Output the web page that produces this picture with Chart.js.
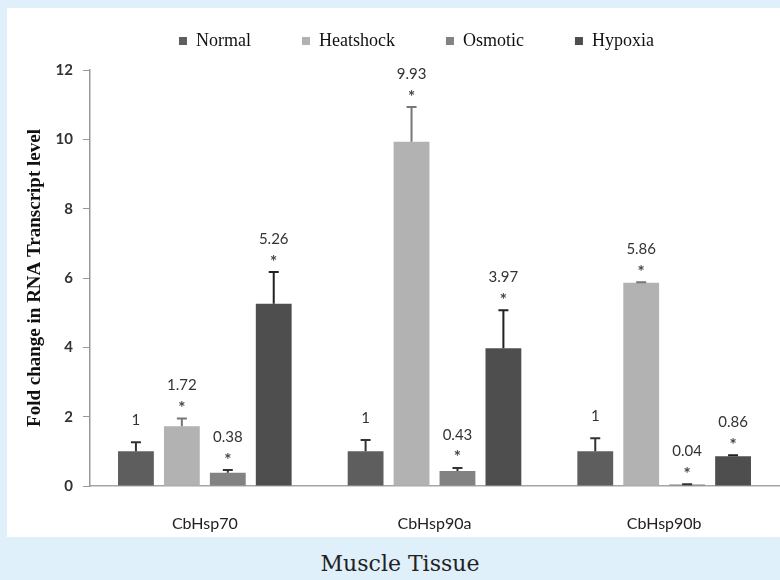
<!DOCTYPE html>
<html>
<head>
<meta charset="utf-8">
<title>Muscle Tissue</title>
<script src="https://cdn.jsdelivr.net/npm/chart.js@4.4.1/dist/chart.umd.min.js"></script>
<style>
  html, body { margin: 0; padding: 0; }
  body { width: 780px; height: 580px; background: #dff0fb; position: relative; overflow: hidden; }
  #panel { position: absolute; left: 7px; top: 8px; width: 773px; height: 529px; background: #fff; }
  #caption { position: absolute; left: 0; width: 800px; top: 551px; text-align: center; font: 22px 'DejaVu Serif', serif; color: #222; }
</style>
</head>
<body>
<div id="panel"><canvas id="chart"></canvas></div>
<div id="caption">Muscle Tissue</div>
<script>
const genes = ['CbHsp70', 'CbHsp90a', 'CbHsp90b'];
const normal = [1, 1, 1];
const heatshock = [1.72, 9.93, 5.86];
const osmotic = [0.38, 0.43, 0.04];
const hypoxia = [5.26, 3.97, 0.86];
const normalErr = [0.26, 0.33, 0.38];
const heatshockErr = [0.23, 1.0, 0.02];
const osmoticErr = [0.08, 0.09, 0.01];
const hypoxiaErr = [0.91, 1.1, 0.03];
const yTicks = [0, 2, 4, 6, 8, 10, 12];

function series(label, data, errors, color, errorColor, starred) {
  return {
    label,
    data,
    errors,
    errorColor,
    starred,
    backgroundColor: color,
    borderWidth: 0,
    categoryPercentage: 0.8,
    barPercentage: 0.78,
  };
}

// error bars (upper half only) plus value and "*" labels
const errorBars = {
  id: 'errorBars',
  afterDatasetsDraw(chart) {
    const { ctx } = chart;
    const y = chart.scales.y;
    chart.data.datasets.forEach((ds, i) => {
      chart.getDatasetMeta(i).data.forEach((bar, j) => {
        const top = y.getPixelForValue(ds.data[j] + ds.errors[j]);
        ctx.save();
        ctx.strokeStyle = ds.errorColor;
        ctx.lineWidth = 2;
        ctx.beginPath();
        ctx.moveTo(bar.x, bar.y);
        ctx.lineTo(bar.x, top);
        ctx.moveTo(bar.x - 5, top);
        ctx.lineTo(bar.x + 5, top);
        ctx.stroke();
        ctx.fillStyle = '#333';
        ctx.font = '15px Lato';
        ctx.textAlign = 'center';
        ctx.textBaseline = 'middle';
        ctx.fillText(String(ds.data[j]), bar.x, top - (ds.starred ? 33 : 22));
        if (ds.starred) {
          ctx.fillStyle = '#444';
          ctx.font = 'bold 17px Lato';
          ctx.fillText('*', bar.x, top - 10);
        }
        ctx.restore();
      });
    });
  },
};

// fixed legend box height and position
const legendPlace = {
  id: 'legendPlace',
  beforeInit(chart) {
    const fit = chart.legend.fit;
    chart.legend.fit = function () {
      fit.bind(chart.legend)();
      this.height = 62;
    };
  },
  afterLayout(chart) {
    chart.legend.left = 121;
    chart.legend.top = -27;
  },
};

new Chart(document.getElementById('chart'), {
  type: 'bar',
  data: {
    labels: genes,
    datasets: [
      series('Normal', normal, normalErr, '#5e5e5e', '#333', false),
      series('Heatshock', heatshock, heatshockErr, '#b2b2b2', '#777', true),
      series('Osmotic', osmotic, osmoticErr, '#828282', '#333', true),
      series('Hypoxia', hypoxia, hypoxiaErr, '#4e4e4e', '#222', true),
    ],
  },
  options: {
    responsive: true,
    maintainAspectRatio: false,
    animation: false,
    layout: { padding: { left: 0, right: 1, top: 0, bottom: 0 } },
    plugins: {
      legend: {
        align: 'start',
        labels: {
          boxWidth: 8,
          boxHeight: 8,
          padding: 51,
          color: '#111',
          font: { family: 'Liberation Serif', size: 18 },
        },
      },
      tooltip: { enabled: false },
    },
    scales: {
      x: {
        grid: { display: false },
        border: { color: '#a6a6a6', width: 1.5 },
        ticks: { color: '#222', padding: 20, font: { family: 'Lato', size: 16 } },
        afterFit(scale) { scale.height = 51; },
      },
      y: {
        min: 0,
        max: 12,
        afterBuildTicks(scale) { scale.ticks = yTicks.map((v) => ({ value: v })); },
        grid: { drawOnChartArea: false, tickLength: 7, color: '#999' },
        border: { color: '#999', width: 1.5 },
        ticks: { padding: 10, color: '#333', font: { family: 'Lato', size: 15, weight: 'bold' } },
        title: {
          display: true,
          text: 'Fold change in RNA Transcript level',
          color: '#111',
          font: { family: 'Liberation Serif', size: 19, weight: 'bold' },
          padding: { top: 17, bottom: 0 },
        },
        afterFit(scale) { scale.width = 83; },
      },
    },
  },
  plugins: [errorBars, legendPlace],
});
</script>
</body>
</html>
